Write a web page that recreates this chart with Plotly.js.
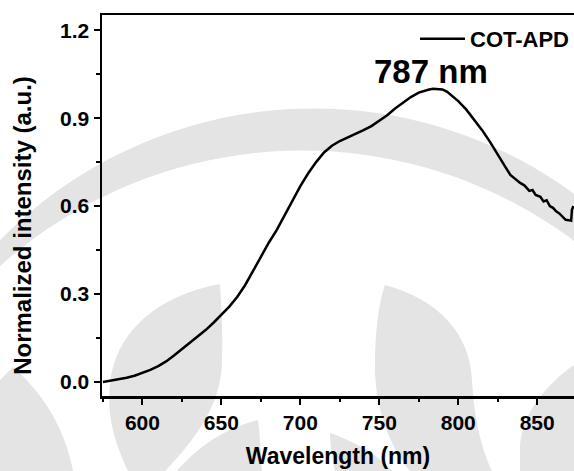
<!DOCTYPE html>
<html>
<head>
<meta charset="utf-8">
<script src="https://cdn.plot.ly/plotly-3.0.1.min.js"></script>
<style>html,body{margin:0;padding:0;background:#fff;}#chart{width:574px;height:471px;}</style>
</head>
<body>
<div id="chart"></div>
<script>
// ---- data ----
const seriesName = "COT-APD";
const wavelength = [575,580,585,590,595,600,605,610,615,620,625,630,635,640,645,650,655,660,665,670,675,678,679,680,685,690,695,700,705,710,715,720,725,730,735,740,745,750,755,760,765,770,775,778,781,784,787,790,793,796,800,805,810,815,820,825,830,833,836,839,842,845,847,849,852,854,856,858,860,862,864,866,868,870,871.5,872,873];
const intensity  = [0.000,0.004,0.008,0.014,0.021,0.030,0.041,0.054,0.070,0.090,0.112,0.133,0.154,0.177,0.202,0.229,0.257,0.290,0.330,0.378,0.428,0.458,0.470,0.475,0.518,0.568,0.618,0.668,0.712,0.750,0.783,0.806,0.822,0.834,0.846,0.859,0.873,0.891,0.910,0.933,0.954,0.972,0.987,0.993,0.997,1.000,1.000,0.998,0.990,0.977,0.958,0.930,0.897,0.860,0.820,0.778,0.732,0.706,0.692,0.680,0.670,0.652,0.655,0.638,0.632,0.616,0.620,0.600,0.594,0.582,0.575,0.562,0.553,0.552,0.550,0.588,0.600];
const peakLabel = "787 nm";
const peakLabelPos = [782.7, 1.06];
const xTicks = [600,650,700,750,800,850];
const yTicks = [0.0,0.3,0.6,0.9,1.2];

// ---- watermark geometry (pixel space -> paper) ----
const L=102, R=574, T=15, B=396;
const px = x => ((x-L)/(R-L)).toFixed(4);
const py = y => ((B-y)/(B-T)).toFixed(4);
function pathFromPixels(cmds){
  return cmds.map(c=>{
    if(c[0]==='Z') return 'Z';
    const pts=[];
    for(let i=1;i<c.length;i+=2) pts.push(px(c[i])+','+py(c[i+1]));
    return c[0]+' '+pts.join(' ');
  }).join(' ');
}
function bandPath(o, i){
  // o, i: [cx, cy, r] for outer and inner arcs (upper halves)
  const pts=[]; const n=90;
  for(let k=0;k<=n;k++){const a=Math.PI*(1-k/n); pts.push([o[0]+o[2]*Math.cos(a), o[1]-o[2]*Math.sin(a)]);}
  for(let k=0;k<=n;k++){const a=Math.PI*k/n; pts.push([i[0]+i[2]*Math.cos(a), i[1]-i[2]*Math.sin(a)]);}
  return pts.map((p,k)=>(k?'L ':'M ')+px(p[0])+','+py(p[1])).join(' ')+' Z';
}
const wmColor = '#e4e4e4';
const wmPaths = [
  bandPath([313.7,547.9,439.5],[302.4,604,453.5]),
  pathFromPixels([['M',220,284],['C',160,295,115,330,110,385],['C',106,420,118,450,128,471],['L',165,471],['C',200,435,222,400,222,360],['C',223,330,221,300,220,284],['Z']]),
  pathFromPixels([['M',385,285],['C',440,300,470,335,472,380],['C',474,420,482,450,492,471],['L',410,471],['C',385,440,374,400,375,360],['C',376,320,380,300,385,285],['Z']]),
  pathFromPixels([['M',0,380],['L',13,367],['C',45,395,65,430,73,471],['L',0,471],['Z']]),
  pathFromPixels([['M',258,420],['C',220,430,195,450,177,471],['L',262,471],['C',261,455,260,435,258,420],['Z']]),
  pathFromPixels([['M',330,433],['C',350,440,375,452,392,471],['L',335,471],['C',332,458,330,445,330,433],['Z']]),
  pathFromPixels([['M',574,365],['C',545,385,522,415,520,445],['L',520,471],['L',574,471],['Z']])
];
const shapes = wmPaths.map(p=>({type:'path', path:p, xref:'paper', yref:'paper', fillcolor:wmColor, line:{width:0}, layer:'below'}));

const font = 'Liberation Sans, Arial, Helvetica, sans-serif';
const NB = '\u00a0';

const trace = {
  x: wavelength, y: intensity, name: seriesName, type:'scatter', mode:'lines',
  line:{color:'#000', width:2.5}
};

const layout = {
  width:574, height:471,
  margin:{l:L, r:574-R, t:T, b:471-B, pad:0},
  paper_bgcolor:'#fff', plot_bgcolor:'rgba(0,0,0,0)',
  font:{family:font, color:'#000'},
  showlegend:true,
  legend:{x:1, xanchor:'right', y:py(39), yanchor:'middle', bgcolor:'rgba(0,0,0,0)', itemwidth:45,
          font:{family:font, size:22, weight:'bold', color:'#000'}},
  xaxis:{
    range:[574.4, 873.3], showgrid:false, zeroline:false,
    showline:true, linecolor:'#000', linewidth:2.5, mirror:true,
    tickmode:'array', tickvals:xTicks, ticktext:xTicks.map(String),
    ticks:'outside', ticklen:6, tickwidth:2, tickcolor:'#000',
    minor:{dtick:25, ticks:'outside', ticklen:3.5, tickwidth:2, tickcolor:'#000'},
    tickfont:{family:font, size:21, weight:'bold'},
    title:{text:'Wavelength (nm)', font:{family:font, size:23, weight:'bold'}, standoff:15},
    automargin:false
  },
  yaxis:{
    range:[-0.048, 1.252], showgrid:false, zeroline:false,
    showline:true, linecolor:'#000', linewidth:2.5, mirror:false,
    tickmode:'array', tickvals:yTicks, ticktext:yTicks.map(v=>v.toFixed(1)),
    ticks:'outside', ticklen:6, tickwidth:2, tickcolor:'#000',
    minor:{dtick:0.15, ticks:'outside', ticklen:3.5, tickwidth:2, tickcolor:'#000'},
    tickfont:{family:font, size:21, weight:'bold'},
    title:{text:'Normalized intensity (a.u.)'+NB+NB+NB+NB+NB+NB+'\u200b', font:{family:font, size:24, weight:'bold'}, standoff:22},
    automargin:false
  },
  annotations:[{x:peakLabelPos[0], y:peakLabelPos[1], xref:'x', yref:'y', text:peakLabel, showarrow:false,
    xanchor:'center', yanchor:'middle', font:{family:font, size:33, weight:'bold', color:'#000'}}],
  shapes: shapes
};

Plotly.newPlot('chart', [trace], layout, {displayModeBar:false, staticPlot:true});
</script>
</body>
</html>
